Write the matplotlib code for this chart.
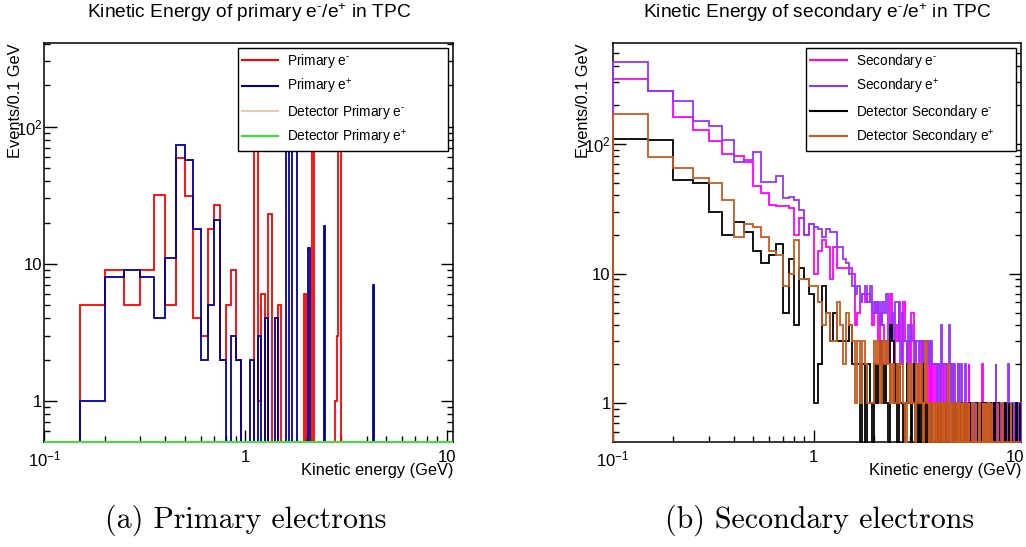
import numpy as np
import matplotlib.pyplot as plt
from matplotlib.lines import Line2D
from matplotlib.ticker import FixedLocator, NullFormatter

plt.rcParams['font.family'] = ['Liberation Sans', 'DejaVu Sans']
plt.rcParams['mathtext.fontset'] = 'custom'
plt.rcParams['mathtext.rm'] = 'Liberation Sans'
plt.rcParams['mathtext.it'] = 'Liberation Sans:italic'

# binning: 0.05 GeV bins, visible range 0.1 - 10.8 GeV
bin_width = 0.05
e_min, e_max = 0.1, 10.8
edges = e_min + bin_width * np.arange(215)
y_floor = 0.5

# ---- (a) primary electrons: non-empty bins only (low edge, count) ----
prim_em_bins = [0.15, 0.20, 0.25, 0.30, 0.35, 0.40, 0.45, 0.50, 0.55, 0.60,
                0.65, 0.70, 0.75, 0.80, 0.85, 0.90, 1.10, 1.15, 1.20, 1.30,
                1.45, 1.95, 2.15, 2.80, 2.85, 2.90, 2.95]
prim_em_counts = [5, 9, 5, 9, 32, 5, 59, 31, 4, 3,
                  18, 27, 2, 5, 9, 2, 150, 1, 6, 23,
                  5, 6, 120, 1, 3, 140, 140]
prim_ep_bins = [0.15, 0.20, 0.25, 0.30, 0.35, 0.40, 0.45, 0.50, 0.55, 0.60,
                0.65, 0.70, 0.75, 0.85, 0.90, 1.05, 1.15, 1.25, 1.40, 1.60,
                1.70, 1.75, 2.05, 2.45, 4.30]
prim_ep_counts = [1, 8, 9, 8, 4, 11, 74, 57, 18, 2,
                  5, 21, 2, 3, 2, 2, 3, 4, 4, 110,
                  130, 130, 13, 19, 7]
det_prim_em_bins, det_prim_em_counts = [], []
det_prim_ep_bins, det_prim_ep_counts = [], []

# ---- (b) secondary electrons: every bin, one row per GeV ----
sec_em_counts = [
    318, 255, 162, 127, 105, 84, 80, 73, 47, 42, 34, 33, 33, 32, 20, 27, 20, 24,
    10, 15, 18, 16, 9, 16, 11, 11, 11, 11, 11, 10, 4, 5, 6, 7, 6, 7, 6, 4,
    5, 6, 3, 5, 4, 3, 2, 3, 7, 3, 2, 4, 3, 6, 3, 2, 6, 3, 2, 3,
    2, 5, 5, 2, 3, 2, 1, 2, 3, 1, 2, 2, 1, 3, 2, 1, 2, 1, 2, 1,
    1, 2, 1, 1, 0, 2, 1, 1, 2, 1, 0, 1, 2, 1, 1, 0, 2, 1, 1, 2,
    1, 0, 1, 1, 0, 2, 0, 1, 1, 0, 1, 0, 0, 1, 0, 1, 1, 0, 2, 0,
    0, 1, 0, 0, 1, 0, 0, 1, 0, 0, 0, 1, 0, 0, 0, 0, 1, 0, 2, 0,
    0, 1, 0, 0, 1, 0, 0, 0, 1, 0, 0, 0, 0, 1, 0, 0, 1, 0, 0, 0,
    0, 0, 0, 1, 0, 0, 0, 0, 0, 1, 0, 0, 0, 0, 0, 0, 0, 1, 0, 0,
    0, 0, 0, 0, 1, 0, 0, 0, 0, 0, 0, 1, 0, 0, 0, 1, 0, 0, 0, 0,
    0, 0, 1, 0, 0, 0, 0, 0, 0, 0, 1, 0, 0, 0, 0, 0]
sec_ep_counts = [
    427, 255, 213, 151, 137, 108, 73, 75, 86, 51, 51, 57, 38, 39, 37, 31, 20, 24,
    23, 22, 19, 22, 21, 21, 16, 16, 13, 12, 10, 8, 7, 8, 6, 7, 8, 6, 8, 5,
    6, 5, 6, 4, 6, 5, 7, 3, 3, 5, 3, 6, 6, 3, 2, 5, 3, 3, 2, 4,
    3, 4, 3, 3, 2, 3, 3, 2, 2, 3, 2, 3, 3, 2, 2, 3, 2, 3, 2, 2,
    2, 2, 1, 2, 2, 1, 4, 2, 2, 2, 2, 1, 2, 2, 4, 2, 2, 1, 2, 1,
    2, 1, 1, 0, 1, 2, 1, 1, 2, 1, 0, 1, 1, 2, 1, 1, 0, 1, 1, 1,
    1, 1, 0, 1, 1, 0, 1, 0, 1, 1, 0, 0, 1, 0, 1, 0, 0, 1, 1, 0,
    1, 0, 1, 1, 0, 1, 0, 1, 0, 0, 1, 1, 0, 0, 1, 0, 0, 1, 0, 1,
    0, 2, 0, 0, 1, 0, 0, 0, 1, 0, 0, 1, 0, 0, 0, 0, 1, 0, 0, 0,
    0, 0, 1, 0, 0, 0, 2, 0, 0, 0, 1, 0, 0, 0, 0, 1, 0, 0, 0, 0,
    1, 0, 0, 1, 1, 0, 0, 0, 1, 1, 0, 0, 0, 0, 1, 1]
det_sec_em_counts = [
    110, 107, 53, 50, 30, 20, 25, 21, 15, 12, 14, 17, 5, 13, 4, 11, 9, 7,
    1, 2, 8, 5, 3, 5, 3, 3, 3, 3, 4, 2, 2, 2, 0, 2, 0, 2, 1, 0,
    2, 1, 2, 3, 1, 2, 1, 0, 4, 3, 1, 2, 0, 2, 1, 1, 0, 1, 2, 1,
    1, 0, 1, 2, 0, 1, 0, 1, 0, 2, 1, 0, 1, 0, 0, 1, 0, 1, 0, 0,
    0, 1, 0, 0, 1, 0, 0, 1, 0, 1, 0, 0, 1, 0, 0, 0, 1, 0, 0, 1,
    0, 1, 0, 0, 0, 1, 0, 0, 1, 0, 0, 0, 1, 0, 0, 0, 0, 1, 0, 0,
    0, 0, 1, 0, 0, 0, 0, 0, 0, 1, 0, 0, 0, 0, 0, 0, 0, 1, 1, 0,
    1, 0, 0, 1, 0, 0, 0, 0, 0, 0, 0, 1, 0, 0, 0, 0, 0, 0, 1, 0,
    0, 0, 0, 0, 0, 0, 1, 0, 0, 0, 0, 0, 0, 1, 0, 1, 0, 0, 0, 0,
    1, 0, 0, 0, 0, 0, 0, 1, 0, 0, 0, 0, 0, 0, 1, 0, 0, 0, 0, 0,
    0, 0, 0, 0, 1, 0, 0, 0, 0, 0, 0, 0, 1, 0, 0, 0]
det_sec_ep_counts = [
    171, 79, 65, 55, 50, 37, 19, 24, 23, 19, 15, 14, 8, 10, 18, 9, 9, 8,
    8, 6, 4, 5, 3, 3, 6, 4, 2, 5, 4, 3, 1, 3, 1, 3, 2, 1, 1, 1,
    3, 2, 3, 1, 3, 2, 3, 2, 1, 2, 1, 1, 2, 1, 2, 2, 1, 0, 1, 2,
    1, 2, 1, 1, 0, 2, 1, 1, 2, 1, 0, 1, 3, 1, 1, 0, 1, 1, 0, 1,
    1, 0, 1, 1, 0, 1, 1, 0, 1, 0, 1, 1, 0, 2, 1, 0, 1, 0, 0, 1,
    1, 0, 0, 1, 0, 0, 1, 0, 0, 1, 0, 1, 0, 0, 0, 1, 0, 0, 1, 0,
    0, 0, 0, 1, 0, 0, 0, 0, 1, 0, 0, 0, 0, 1, 0, 0, 0, 0, 0, 1,
    0, 0, 1, 0, 0, 1, 0, 1, 0, 0, 1, 0, 0, 0, 1, 0, 0, 0, 0, 0,
    0, 0, 0, 0, 0, 1, 0, 0, 0, 0, 0, 0, 0, 0, 1, 0, 0, 0, 0, 0,
    0, 0, 0, 0, 0, 0, 0, 0, 0, 0, 0, 0, 1, 0, 0, 0, 0, 0, 0, 0,
    0, 0, 0, 0, 0, 0, 0, 0, 0, 0, 0, 0, 0, 0, 0, 0]


def fill_bins(bins, counts):
    h = np.zeros(len(edges) - 1)
    if len(bins):
        idx = np.rint((np.array(bins) - e_min) / bin_width).astype(int)
        h[idx] = counts
    return h


def draw_hist(ax, counts, color):
    # empty bins sit on the frame bottom, like ROOT does on a log axis
    vals = np.clip(np.asarray(counts, dtype=float), y_floor, None)
    ax.stairs(vals, edges, baseline=y_floor, color=color, lw=1.3,
              zorder=3, clip_on=False)


def style_axes(ax, ymax):
    ax.set_xscale('log')
    ax.set_yscale('log')
    ax.set_xlim(e_min, e_max)
    ax.set_ylim(y_floor, ymax)
    ax.set_xticks([0.1, 1, 10], [r'$10^{-1}$', '1', '10'])
    ax.xaxis.set_minor_locator(FixedLocator([0.2, 0.3, 0.4, 0.5, 0.6, 0.7, 0.8, 0.9,
                                             2, 3, 4, 5, 6, 7, 8, 9]))
    ax.xaxis.set_minor_formatter(NullFormatter())
    ax.set_yticks([1, 10, 100], ['1', '10', r'$10^{2}$'])
    ax.yaxis.set_minor_locator(FixedLocator([0.6, 0.7, 0.8, 0.9, 2, 3, 4, 5, 6, 7, 8, 9,
                                             20, 30, 40, 50, 60, 70, 80, 90, 200, 300, 400, 500]))
    ax.yaxis.set_minor_formatter(NullFormatter())
    ax.tick_params(which='both', direction='in', left=True, right=True,
                   top=False, bottom=True, labelsize=12)
    ax.tick_params(which='major', length=9, width=1)
    ax.tick_params(which='minor', length=4.5, width=1)
    ax.tick_params(axis='x', pad=5.5)
    ax.tick_params(axis='y', pad=1.5)
    for sp in ax.spines.values():
        sp.set_linewidth(1.1)
    ax.set_xlabel('Kinetic energy (GeV)', fontsize=11.8, loc='right')
    ax.xaxis.set_label_coords(1.0, -0.052)
    ax.set_ylabel('Events/0.1 GeV', fontsize=11.8, loc='top')
    ax.yaxis.set_label_coords(-0.052, 1.0)


def add_legend(ax, labels, colors):
    handles = [Line2D([], [], color=c, lw=1.5) for c in colors]
    leg = ax.legend(handles, labels, loc='upper left',
                    bbox_to_anchor=(0.474, 0.7376, 0.513, 0.2506), mode='expand',
                    borderaxespad=0, fontsize=9.8, handlelength=2.65,
                    handletextpad=0.66, labelspacing=0.5, borderpad=0.3,
                    fancybox=False, framealpha=1, edgecolor='black')
    leg.get_frame().set_linewidth(1.0)
    leg.set_zorder(10)


fig = plt.figure(figsize=(10.26, 5.47), dpi=100)
ax1 = fig.add_axes([0.0432, 0.1914, 0.3986, 0.7294])
ax2 = fig.add_axes([0.5972, 0.1914, 0.3982, 0.7294])

# (a) primary
prim_colors = ['#ff0000', '#000099', '#e8cba8', '#33e633']
prim_labels = [r'Primary e$^{\text{-}}$', r'Primary e$^{+}$',
               r'Detector Primary e$^{\text{-}}$', r'Detector Primary e$^{+}$']
prim_series = [(prim_em_bins, prim_em_counts), (prim_ep_bins, prim_ep_counts),
               (det_prim_em_bins, det_prim_em_counts), (det_prim_ep_bins, det_prim_ep_counts)]
for (b, c), col in zip(prim_series, prim_colors):
    draw_hist(ax1, fill_bins(b, c), col)
style_axes(ax1, 405)
add_legend(ax1, prim_labels, prim_colors)

# (b) secondary
sec_colors = ['#ff00ff', '#9933ff', '#000000', '#cc5a1e']
sec_labels = [r'Secondary e$^{\text{-}}$', r'Secondary e$^{+}$',
              r'Detector Secondary e$^{\text{-}}$', r'Detector Secondary e$^{+}$']
for counts, col in zip([sec_em_counts, sec_ep_counts, det_sec_em_counts, det_sec_ep_counts], sec_colors):
    draw_hist(ax2, counts, col)
style_axes(ax2, 596)
add_legend(ax2, sec_labels, sec_colors)

fig.text(0.2427, 0.977, r'Kinetic Energy of primary e$^{\text{-}}$/e$^{+}$ in TPC',
         ha='center', va='center', fontsize=13.8)
fig.text(0.7963, 0.977, r'Kinetic Energy of secondary e$^{\text{-}}$/e$^{+}$ in TPC',
         ha='center', va='center', fontsize=13.8)

fig.text(0.239, 0.049, '(a) Primary electrons', family='cmr10',
         ha='center', va='center', fontsize=21.6)
fig.text(0.799, 0.049, '(b) Secondary electrons', family='cmr10',
         ha='center', va='center', fontsize=21.6)

fig.savefig('out.png', dpi=100)
